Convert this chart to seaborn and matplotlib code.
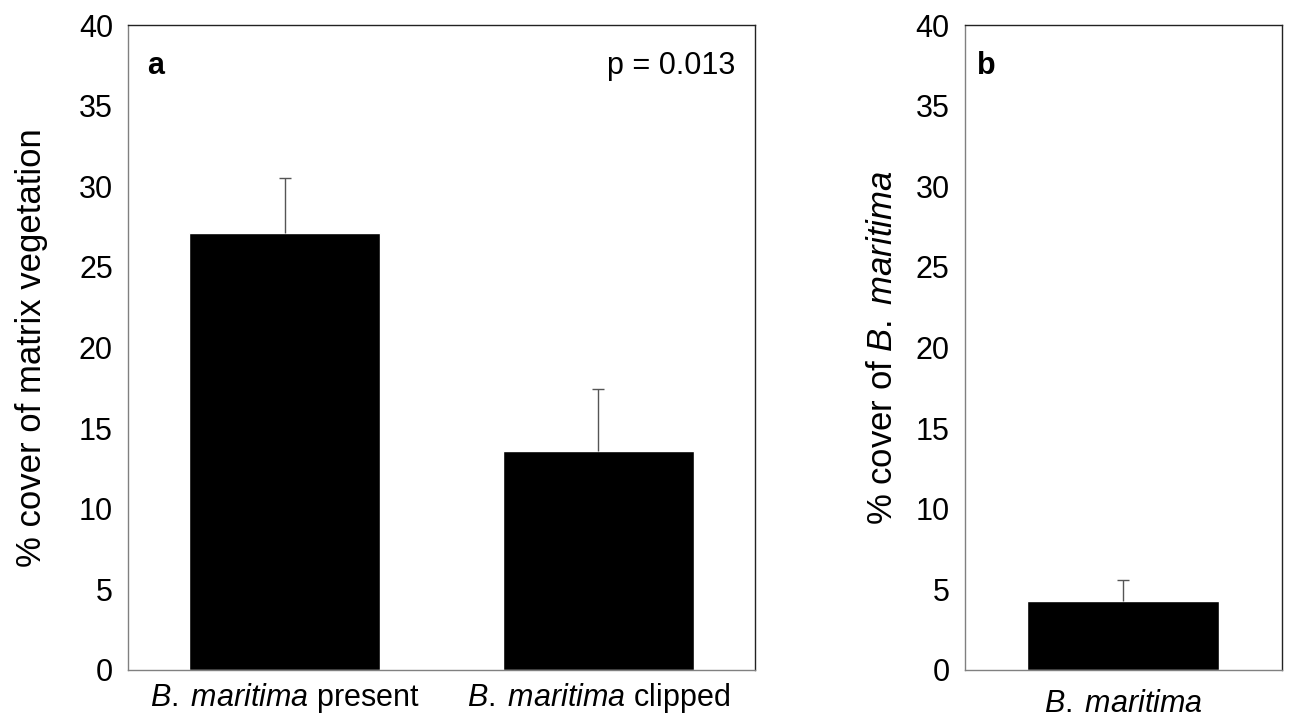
import matplotlib
matplotlib.use("Agg")
import matplotlib.pyplot as plt
import seaborn as sns
import pandas as pd
import numpy as np

sns.set_style("white")
plt.rcParams['font.family'] = ['Liberation Sans', 'DejaVu Sans']
plt.rcParams['mathtext.fontset'] = 'custom'
plt.rcParams['mathtext.rm'] = 'Liberation Sans'
plt.rcParams['mathtext.it'] = 'Liberation Sans:italic'
plt.rcParams['mathtext.bf'] = 'Liberation Sans:bold'

# panel a data
treatments = ["B. maritima present", "B. maritima clipped"]
matrix_cover = [27.1, 13.6]
matrix_se = [3.4, 3.8]
treatment_labels = [r"$\mathit{B.\;maritima}$ present",
                    r"$\mathit{B.\;maritima}$ clipped"]

# panel b data
species = ["B. maritima"]
species_cover = [4.3]
species_se = [1.3]
species_labels = [r"$\mathit{B.\;maritima}$"]

yticks = np.arange(0, 41, 5)
fs = 22
fs_lab = 25


def style_axis(ax, n):
    ax.set_ylim(0, 40)
    ax.set_xlim(-0.5, n - 0.5)
    ax.set_yticks(yticks)
    ax.tick_params(axis='both', length=0, labelsize=fs, colors='black')
    ax.tick_params(axis='y', pad=11)
    ax.tick_params(axis='x', pad=8)
    for side in ['left', 'bottom']:
        ax.spines[side].set_color('#808080')
    for side in ['top', 'right']:
        ax.spines[side].set_color('#222222')
    for s in ax.spines.values():
        s.set_linewidth(1.0)
        s.set_visible(True)
    ax.set_xlabel('')


def upper_errorbars(ax, values, errs):
    # only the upper half of the error bar, like the original
    eb = ax.errorbar(range(len(values)), values,
                     yerr=[np.zeros(len(errs)), errs],
                     fmt='none', ecolor='#555555', elinewidth=1,
                     capsize=4, capthick=1)
    eb[1][0].set_visible(False)


fig = plt.figure(figsize=(12.95, 7.21), dpi=100)
ax1 = fig.add_axes([0.099, 0.071, 0.484, 0.894])
ax2 = fig.add_axes([0.745, 0.071, 0.245, 0.894])

df_a = pd.DataFrame({'treatment': treatments, 'cover': matrix_cover})
sns.barplot(data=df_a, x='treatment', y='cover', color='black', saturation=1,
            width=0.61, errorbar=None, ax=ax1)
upper_errorbars(ax1, matrix_cover, matrix_se)
style_axis(ax1, len(treatments))
ax1.set_xticks(range(len(treatments)))
ax1.set_xticklabels(treatment_labels)
ax1.set_ylabel('% cover of matrix vegetation', fontsize=fs_lab, labelpad=22,
               color='black')
ax1.text(0.03, 0.96, 'a', transform=ax1.transAxes, fontsize=fs,
         fontweight='bold', va='top', ha='left', color='black')
ax1.text(0.968, 0.96, 'p = 0.013', transform=ax1.transAxes, fontsize=fs,
         va='top', ha='right', color='black')

df_b = pd.DataFrame({'species': species, 'cover': species_cover})
sns.barplot(data=df_b, x='species', y='cover', color='black', saturation=1,
            width=0.605, errorbar=None, ax=ax2)
upper_errorbars(ax2, species_cover, species_se)
style_axis(ax2, len(species))
ax2.set_xticks(range(len(species)))
ax2.set_xticklabels(species_labels)
ax2.tick_params(axis='x', pad=14)
ax2.set_ylabel(r'% cover of $\mathit{B.\;maritima}$', fontsize=fs_lab,
               labelpad=12, color='black')
ax2.text(0.04, 0.96, 'b', transform=ax2.transAxes, fontsize=fs,
         fontweight='bold', va='top', ha='left', color='black')

fig.savefig('out.png', dpi=100)
